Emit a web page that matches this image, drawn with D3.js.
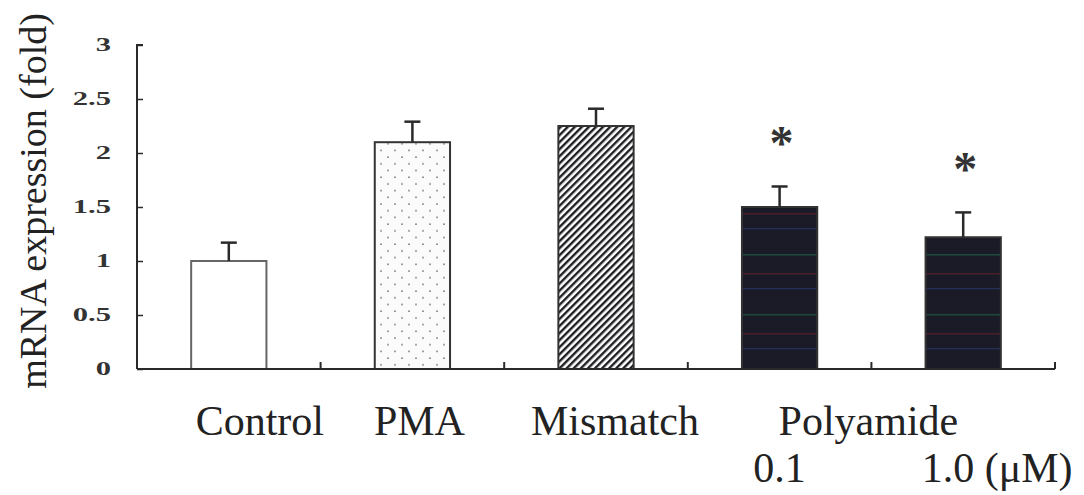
<!DOCTYPE html>
<html>
<head>
<meta charset="utf-8">
<script src="https://cdn.jsdelivr.net/npm/d3@7"></script>
<style>
    body { margin: 0; background: #fff; }
    svg { display: block; }
</style>
</head>
<body>
<svg id="chart" width="1084" height="495"></svg>
<script>
// values
const categories = ['Control', 'PMA', 'Mismatch', 'Poly0.1', 'Poly1.0'];
const means = [1.00, 2.10, 2.25, 1.50, 1.22];
const errors = [0.17, 0.19, 0.16, 0.19, 0.23];
const significant = [false, false, false, true, true];
const yTicks = [0, 0.5, 1, 1.5, 2, 2.5, 3];
const yTickLabels = ['0', '0.5', '1', '1.5', '2', '2.5', '3'];
const mainLabels = ['Control', 'PMA', 'Mismatch', 'Polyamide'];
const doseLabels = ['0.1', '1.0 (\u03bcM)'];

const svg = d3.select('#chart');
const margin = {top: 45, left: 137, right: 29, bottom: 126};
const svgWidth = +svg.attr('width');
const svgHeight = +svg.attr('height');
const x0 = margin.left, x1 = svgWidth - margin.right;
const yBottom = svgHeight - margin.bottom;

const xScale = d3.scaleBand()
    .domain(categories)
    .range([x0, x1])
    .padding(0);

const yScale = d3.scaleLinear()
    .domain([0, 3])
    .range([yBottom, margin.top]);

const ink = '#2a2a2a';
const serif = '"Liberation Serif", "Times New Roman", serif';

// patterns
const defs = svg.append('defs');

const dots = defs.append('pattern')
    .attr('id', 'dots')
    .attr('patternUnits', 'userSpaceOnUse')
    .attr('width', 14).attr('height', 13.4);
dots.append('rect').attr('width', 14).attr('height', 13.4).attr('fill', '#fbfbfb');
dots.append('circle').attr('cx', 3).attr('cy', 3).attr('r', 0.9).attr('fill', '#777');
dots.append('circle').attr('cx', 10).attr('cy', 9.7).attr('r', 0.9).attr('fill', '#777');

const stripes = defs.append('pattern')
    .attr('id', 'stripes')
    .attr('patternUnits', 'userSpaceOnUse')
    .attr('width', 5).attr('height', 5)
    .attr('patternTransform', 'rotate(45)');
stripes.append('rect').attr('width', 5).attr('height', 5).attr('fill', '#fff');
stripes.append('rect').attr('x', 0).attr('width', 2.4).attr('height', 5).attr('fill', '#1e1e22');

const dark = defs.append('pattern')
    .attr('id', 'dark')
    .attr('patternUnits', 'userSpaceOnUse')
    .attr('width', 8).attr('height', 60);
dark.append('rect').attr('width', 8).attr('height', 60).attr('fill', '#1a1b27');
dark.append('rect').attr('y', 14).attr('width', 8).attr('height', 1.5).attr('fill', '#1d4a3a');
dark.append('rect').attr('y', 33).attr('width', 8).attr('height', 1.5).attr('fill', '#4a1f2a');
dark.append('rect').attr('y', 48).attr('width', 8).attr('height', 1.2).attr('fill', '#22305a');

const fills = ['#ffffff', 'url(#dots)', 'url(#stripes)', 'url(#dark)', 'url(#dark)'];

// bars
const barFrac = 0.41;
const barW = xScale.bandwidth() * barFrac;
const barX = c => xScale(c) + (xScale.bandwidth() - barW) / 2;

svg.append('g')
    .selectAll('rect')
    .data(categories)
    .enter()
    .append('rect')
    .attr('x', d => barX(d))
    .attr('y', (d, i) => yScale(means[i]))
    .attr('width', barW)
    .attr('height', (d, i) => yScale(0) - yScale(means[i]))
    .attr('fill', (d, i) => fills[i])
    .attr('stroke', (d, i) => i === 0 ? '#666' : '#333')
    .attr('stroke-width', 2);

// error bars (upper only)
const errG = svg.append('g')
    .attr('stroke', ink)
    .attr('stroke-width', 2.5);
categories.forEach(function (c, i) {
    const cx = xScale(c) + xScale.bandwidth() / 2;
    errG.append('line')
        .attr('x1', cx).attr('x2', cx)
        .attr('y1', yScale(means[i])).attr('y2', yScale(means[i] + errors[i]));
    errG.append('line')
        .attr('x1', cx - 8).attr('x2', cx + 8)
        .attr('y1', yScale(means[i] + errors[i])).attr('y2', yScale(means[i] + errors[i]));
});

// asterisks
svg.append('g')
    .selectAll('text')
    .data(categories.filter((d, i) => significant[i]))
    .enter()
    .append('text')
    .attr('x', d => xScale(d) + xScale.bandwidth() / 2 + 2)
    .attr('y', d => {
        const i = categories.indexOf(d);
        return yScale(means[i] + errors[i]) - 27;
    })
    .attr('text-anchor', 'middle')
    .attr('font-family', serif)
    .attr('font-weight', 'bold')
    .attr('font-size', 48)
    .attr('fill', '#333')
    .text('*');

// y axis
const yAxisG = svg.append('g')
    .attr('transform', `translate(${x0}, 0)`)
    .call(d3.axisRight(yScale).tickValues(yTicks).tickSize(6).tickFormat(''));
yAxisG.select('.domain').attr('d', `M6,${yScale(3)}H0V${yScale(0)}`)
    .attr('stroke', ink).attr('stroke-width', 2);
yAxisG.selectAll('.tick line').attr('stroke', ink).attr('stroke-width', 1.5);

// tick labels: short, wide bold digits
svg.append('g')
    .selectAll('text')
    .data(yTicks)
    .enter()
    .append('text')
    .attr('transform', d => `translate(111, ${yScale(d) + 6}) scale(1.7, 1)`)
    .attr('text-anchor', 'end')
    .attr('font-family', serif)
    .attr('font-weight', 'bold')
    .attr('font-size', 18)
    .attr('fill', '#333')
    .text((d, i) => yTickLabels[i]);

// x axis with upward ticks at band edges
const xAxisG = svg.append('g')
    .attr('stroke', ink);
xAxisG.append('line')
    .attr('x1', x0).attr('x2', x1)
    .attr('y1', yScale(0)).attr('y2', yScale(0))
    .attr('stroke-width', 2);
const edges = categories.slice(1).map(c => xScale(c)).concat([x1]);
xAxisG.selectAll('.edge')
    .data(edges)
    .enter()
    .append('line')
    .attr('class', 'edge')
    .attr('x1', d => d).attr('x2', d => d)
    .attr('y1', yScale(0)).attr('y2', yScale(0) - 7)
    .attr('stroke-width', 2);

// category labels
const centre = c => xScale(c) + xScale.bandwidth() / 2;
const labelX = [centre('Control') + 31, centre('PMA') + 7, centre('Mismatch') + 19, xScale('Poly1.0') - 3];
svg.append('g')
    .selectAll('text')
    .data(mainLabels)
    .enter()
    .append('text')
    .attr('x', (d, i) => labelX[i])
    .attr('y', yBottom + 66)
    .attr('text-anchor', 'middle')
    .attr('font-family', serif)
    .attr('font-size', 42)
    .attr('fill', '#222')
    .text(d => d);

const doseX = [centre('Poly0.1'), centre('Poly1.0') + 34];
svg.append('g')
    .selectAll('text')
    .data(doseLabels)
    .enter()
    .append('text')
    .attr('x', (d, i) => doseX[i])
    .attr('y', yBottom + 113)
    .attr('text-anchor', 'middle')
    .attr('font-family', serif)
    .attr('font-size', 42)
    .attr('fill', '#222')
    .text(d => d);

// y title
svg.append('text')
    .attr('transform', `translate(46, ${(yScale(0) + yScale(3)) / 2 - 6}) rotate(-90)`)
    .attr('text-anchor', 'middle')
    .attr('font-family', serif)
    .attr('font-size', 38)
    .attr('fill', '#222')
    .text('mRNA expression (fold)');
</script>
</body>
</html>
